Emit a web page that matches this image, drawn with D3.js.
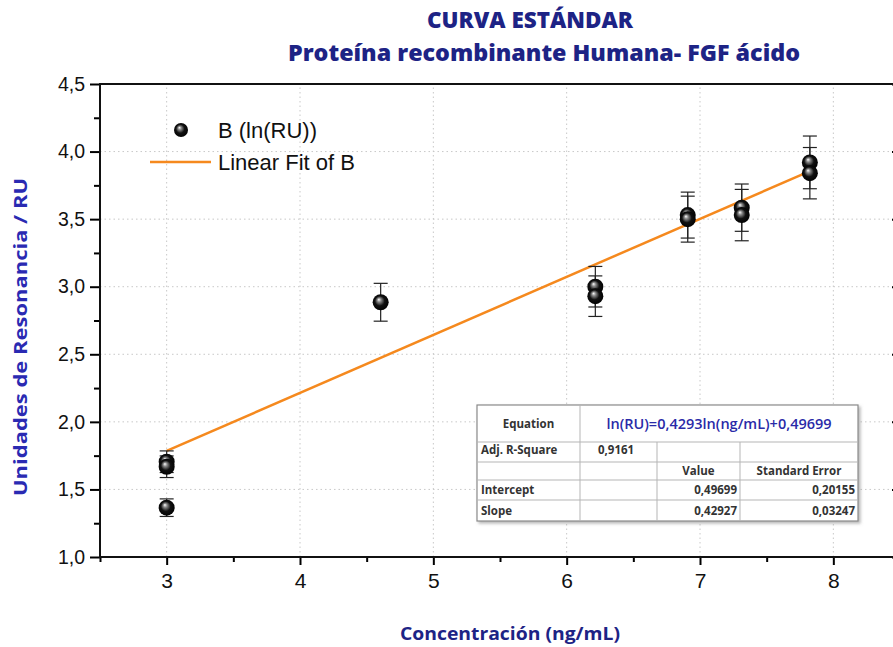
<!DOCTYPE html>
<html>
<head>
<meta charset="utf-8">
<script src="https://cdn.jsdelivr.net/npm/d3@7"></script>
<style>
  body { margin: 0; background: #fff; }
  svg { display: block; }
</style>
</head>
<body>
<div id="chart"></div>
<script>
// Data: ln(concentration) vs ln(RU) with error bars
const concX = [3.0, 3.0, 3.0, 4.605, 6.215, 6.215, 6.908, 6.908, 7.313, 7.313, 7.824, 7.824];
const lnRU = [1.705, 1.668, 1.365, 2.885, 3.0, 2.93, 3.53, 3.5, 3.585, 3.53, 3.92, 3.84];
const errRU = [0.08, 0.08, 0.065, 0.14, 0.15, 0.15, 0.17, 0.17, 0.175, 0.19, 0.195, 0.19];

const fitIntercept = 0.49699;
const fitSlope = 0.4293;

const xTicks = [3, 4, 5, 6, 7, 8];
const yTicks = [1.0, 1.5, 2.0, 2.5, 3.0, 3.5, 4.0, 4.5];

const tableRows = [
  ["Adj. R-Square", "0,9161", "", ""],
  ["", "", "Value", "Standard Error"],
  ["Intercept", "", "0,49699", "0,20155"],
  ["Slope", "", "0,42927", "0,03247"]
];
const equationText = "ln(RU)=0,4293ln(ng/mL)+0,49699";

const W = 893, H = 647;
const svg = d3.select("#chart").append("svg")
  .attr("width", W).attr("height", H);

const defs = svg.append("defs");
const grad = defs.append("radialGradient")
  .attr("id", "ball").attr("cx", "50%").attr("cy", "50%").attr("r", "55%")
  .attr("fx", "38%").attr("fy", "32%");
grad.append("stop").attr("offset", "0%").attr("stop-color", "#ffffff");
grad.append("stop").attr("offset", "22%").attr("stop-color", "#8a8a8a");
grad.append("stop").attr("offset", "55%").attr("stop-color", "#111");
grad.append("stop").attr("offset", "100%").attr("stop-color", "#000");

const shadow = defs.append("filter").attr("id", "shadow")
  .attr("x", "-5%").attr("y", "-5%").attr("width", "115%").attr("height", "120%");
shadow.append("feDropShadow").attr("dx", 2).attr("dy", 2).attr("stdDeviation", 1.5)
  .attr("flood-color", "#888").attr("flood-opacity", 0.6);

// Scales
const x = d3.scaleLinear().domain([2.5, 8.5]).range([100, 900]);
const y = d3.scaleLinear().domain([1, 4.5]).range([557, 84]);

const decimalComma = d => d3.format(".1f")(d).replace(".", ",");

// Grid
const grid = svg.append("g").attr("stroke", "#c8c8c8").attr("stroke-dasharray", "1.5,3");
grid.selectAll(".gx").data(xTicks).enter().append("line")
  .attr("x1", d => x(d)).attr("x2", d => x(d))
  .attr("y1", y(1)).attr("y2", y(4.5));
grid.selectAll(".gy").data(yTicks.slice(1, -1)).enter().append("line")
  .attr("x1", x(2.5)).attr("x2", x(8.5))
  .attr("y1", d => y(d)).attr("y2", d => y(d));

// Axes
const xAxis = svg.append("g")
  .attr("transform", `translate(0,${y(1)})`)
  .call(d3.axisBottom(x).tickValues(xTicks).tickSize(8).tickPadding(8).tickFormat(d3.format("d")));
xAxis.select(".domain").remove();
xAxis.selectAll(".tick line").attr("stroke-width", 2);
xAxis.selectAll("text")
  .style("font-family", "'Liberation Sans Narrow', 'Liberation Sans', Arial, sans-serif")
  .style("font-size", "21px").attr("fill", "#111");
svg.append("g")
  .attr("transform", `translate(0,${y(1)})`)
  .call(d3.axisBottom(x).tickValues(d3.range(2.5, 8.6, 1)).tickSize(5).tickFormat(""))
  .call(g => g.select(".domain").remove())
  .selectAll("line").attr("stroke-width", 2);

const yAxis = svg.append("g")
  .attr("transform", `translate(${x(2.5)},0)`)
  .call(d3.axisLeft(y).tickValues(yTicks).tickSize(10).tickPadding(5).tickFormat(decimalComma));
yAxis.select(".domain").remove();
yAxis.selectAll(".tick line").attr("stroke-width", 2);
yAxis.selectAll("text")
  .style("font-family", "'Liberation Sans', Arial, sans-serif")
  .style("font-size", "19.5px").attr("fill", "#111");
svg.append("g")
  .attr("transform", `translate(${x(2.5)},0)`)
  .call(d3.axisLeft(y).tickValues(d3.range(1.25, 4.5, 0.5)).tickSize(6).tickFormat(""))
  .call(g => g.select(".domain").remove())
  .selectAll("line").attr("stroke-width", 2);

// Right axis ticks (inward)
svg.append("g")
  .attr("transform", `translate(${x(8.5)},0)`)
  .call(d3.axisLeft(y).tickValues(yTicks).tickSize(8).tickFormat(""))
  .call(g => g.select(".domain").remove())
  .selectAll("line").attr("stroke-width", 2);

// Frame
svg.append("rect")
  .attr("x", x(2.5)).attr("y", y(4.5))
  .attr("width", x(8.5) - x(2.5)).attr("height", y(1) - y(4.5))
  .attr("fill", "none").attr("stroke", "#111").attr("stroke-width", 2);

// Fit line
const fitX = [d3.min(concX), d3.max(concX)];
svg.append("line")
  .attr("x1", x(fitX[0])).attr("y1", y(fitIntercept + fitSlope * fitX[0]))
  .attr("x2", x(fitX[1])).attr("y2", y(fitIntercept + fitSlope * fitX[1]))
  .attr("stroke", "#f5891e").attr("stroke-width", 2.5);

// Error bars
const pts = concX.map((cx, i) => ({ x: cx, y: lnRU[i], e: errRU[i] }));
const eb = svg.append("g").attr("stroke", "#222").attr("stroke-width", 1.2);
pts.forEach(d => {
  eb.append("line").attr("x1", x(d.x)).attr("x2", x(d.x))
    .attr("y1", y(d.y + d.e)).attr("y2", y(d.y - d.e));
  [d.y + d.e, d.y - d.e].forEach(v => {
    eb.append("line").attr("x1", x(d.x) - 7).attr("x2", x(d.x) + 7)
      .attr("y1", y(v)).attr("y2", y(v));
  });
});

// Points
svg.selectAll(".pt").data(pts).enter().append("circle")
  .attr("cx", d => x(d.x)).attr("cy", d => y(d.y)).attr("r", 8)
  .attr("fill", "url(#ball)");

// Legend
svg.append("circle").attr("cx", 181).attr("cy", 130).attr("r", 7).attr("fill", "url(#ball)");
svg.append("text").attr("x", 218).attr("y", 138)
  .style("font-family", "'Liberation Sans', Arial, sans-serif").style("font-size", "22px")
  .attr("fill", "#111").text("B (ln(RU))");
svg.append("line").attr("x1", 150).attr("x2", 211).attr("y1", 162).attr("y2", 162)
  .attr("stroke", "#f5891e").attr("stroke-width", 2.5);
svg.append("text").attr("x", 218).attr("y", 170)
  .style("font-family", "'Liberation Sans', Arial, sans-serif").style("font-size", "22px")
  .attr("fill", "#111").text("Linear Fit of B");

// Titles
const titleFont = "'Open Sans', 'DejaVu Sans', sans-serif";
svg.append("text").attr("x", 530).attr("y", 28).attr("text-anchor", "middle")
  .attr("textLength", 206).attr("lengthAdjust", "spacingAndGlyphs")
  .style("font-family", titleFont).style("font-weight", "800").style("font-size", "22px")
  .attr("fill", "#1d2385").text("CURVA ESTÁNDAR");
svg.append("text").attr("x", 544).attr("y", 61).attr("text-anchor", "middle")
  .attr("textLength", 512).attr("lengthAdjust", "spacingAndGlyphs")
  .style("font-family", titleFont).style("font-weight", "800").style("font-size", "22px")
  .attr("fill", "#1d2385").text("Proteína recombinante Humana- FGF ácido");

svg.append("text").attr("x", 510).attr("y", 640).attr("text-anchor", "middle")
  .attr("textLength", 220).attr("lengthAdjust", "spacingAndGlyphs")
  .style("font-family", titleFont).style("font-weight", "bold").style("font-size", "17.5px")
  .attr("fill", "#1d2385").text("Concentración (ng/mL)");

svg.append("text")
  .attr("transform", "translate(27,337) rotate(-90)").attr("text-anchor", "middle")
  .attr("textLength", 318).attr("lengthAdjust", "spacingAndGlyphs")
  .style("font-family", titleFont).style("font-weight", "bold").style("font-size", "17.5px")
  .attr("fill", "#2a2ab2").text("Unidades de Resonancia / RU");

// Results table
const colX = [477, 580, 657, 740, 858];
const rowY = [405, 442, 462, 480, 500, 521];
const tbl = svg.append("g");
tbl.append("rect")
  .attr("x", colX[0]).attr("y", rowY[0])
  .attr("width", colX[4] - colX[0]).attr("height", rowY[5] - rowY[0])
  .attr("fill", "#fff").attr("stroke", "#8a8a8a").attr("stroke-width", 1.2)
  .attr("filter", "url(#shadow)");
const tl = tbl.append("g").attr("stroke", "#b5b5b5").attr("stroke-width", 1);
rowY.slice(1, -1).forEach(ry => {
  tl.append("line").attr("x1", colX[0]).attr("x2", colX[4]).attr("y1", ry).attr("y2", ry);
});
tl.append("line").attr("x1", colX[1]).attr("x2", colX[1]).attr("y1", rowY[0]).attr("y2", rowY[5]);
[colX[2], colX[3]].forEach(cx => {
  tl.append("line").attr("x1", cx).attr("x2", cx).attr("y1", rowY[1]).attr("y2", rowY[5]);
});

const cellFont = "'Open Sans', 'DejaVu Sans', sans-serif";
tbl.append("text").attr("x", (colX[0] + colX[1]) / 2).attr("y", 428).attr("text-anchor", "middle")
  .style("font-family", cellFont).style("font-size", "11.5px").style("font-weight", "bold")
  .attr("fill", "#333").text("Equation");
tbl.append("text").attr("x", (colX[1] + colX[4]) / 2).attr("y", 429).attr("text-anchor", "middle")
  .style("font-family", cellFont).style("font-size", "14.5px").style("font-weight", "600")
  .attr("fill", "#2a2aa8").text(equationText);

tableRows.forEach((row, r) => {
  const baseY = (rowY[r + 1] + rowY[r + 2]) / 2 + 4;
  row.forEach((cell, c) => {
    if (!cell) return;
    let tx, anchor;
    if (c === 0) { tx = colX[0] + 4; anchor = "start"; }
    else if (c === 1) { tx = colX[1] + 18; anchor = "start"; }
    else if (r === 1) { tx = (colX[c] + colX[c + 1]) / 2; anchor = "middle"; }
    else { tx = colX[c + 1] - 3; anchor = "end"; }
    tbl.append("text").attr("x", tx).attr("y", r === 0 ? baseY - 2 : baseY)
      .attr("text-anchor", anchor)
      .style("font-family", cellFont).style("font-size", "11.5px").style("font-weight", "bold")
      .attr("fill", "#333").text(cell);
  });
});
</script>
</body>
</html>
